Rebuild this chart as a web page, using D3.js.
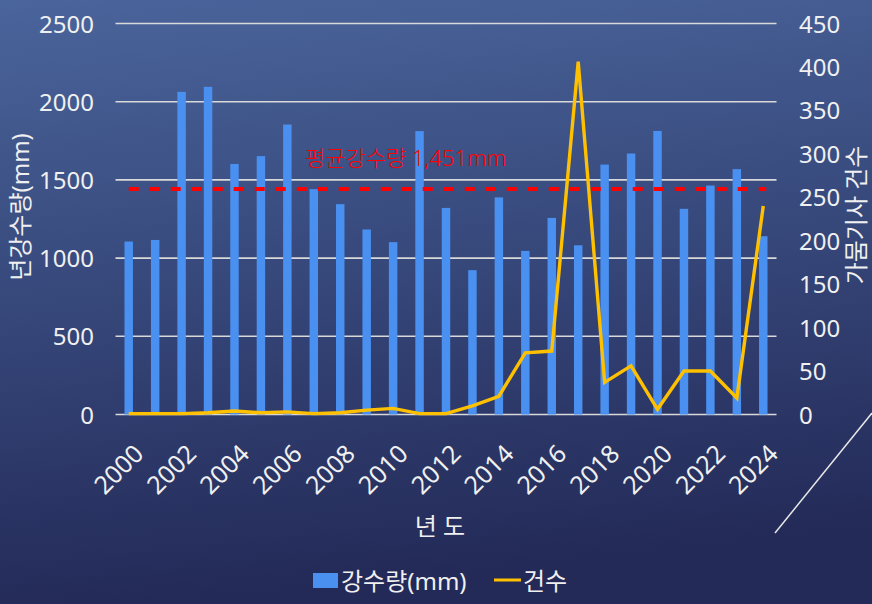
<!DOCTYPE html>
<html>
<head>
<meta charset="utf-8">
<script src="https://cdn.jsdelivr.net/npm/d3@7"></script>
<style>
  html, body { margin: 0; padding: 0; background: #2a3466; }
  svg { display: block; }
  text { font-family: "Noto Sans", "Noto Sans CJK KR", sans-serif; }
</style>
</head>
<body>
<div id="chart"></div>
<script>
// 연도별 데이터
const years = d3.range(2000, 2025).map(String);
const rainfall = [1106, 1116, 2063, 2095, 1602, 1652, 1854, 1441, 1345, 1183,
                  1102, 1812, 1321, 923, 1388, 1046, 1257, 1082, 1598, 1669,
                  1813, 1315, 1464, 1569, 1140];
const articles = [1, 1, 1, 2, 4, 2, 3, 1, 2, 5,
                  7, 1, 1, 10, 21, 71, 73, 406, 37, 56,
                  6, 50, 50, 19, 240];
const avgRain = 1451;
const leftTicks = [0, 500, 1000, 1500, 2000, 2500];
const rightTicks = [0, 50, 100, 150, 200, 250, 300, 350, 400, 450];

const width = 872, height = 604;
const plot = { left: 115.5, right: 776.5, top: 23.5, bottom: 414.5 };

const svg = d3.select("#chart").append("svg")
  .attr("width", width)
  .attr("height", height);

// 배경 그라데이션
const grad = svg.append("defs").append("linearGradient")
  .attr("id", "bg").attr("x1", 0).attr("y1", 0).attr("x2", 0.15).attr("y2", 1);
grad.append("stop").attr("offset", "0%").attr("stop-color", "#4a659c");
grad.append("stop").attr("offset", "100%").attr("stop-color", "#232a58");
svg.append("rect").attr("width", width).attr("height", height).attr("fill", "url(#bg)");

const x = d3.scaleBand().domain(years).range([plot.left, plot.right]).paddingInner(0.68).paddingOuter(0.34);
const xc = d => x(d) + x.bandwidth() / 2;
const yL = d3.scaleLinear().domain([0, 2500]).range([plot.bottom, plot.top]);
const yR = d3.scaleLinear().domain([0, 450]).range([plot.bottom, plot.top]);

// 격자선
svg.append("g")
  .selectAll("line")
  .data(leftTicks)
  .enter()
  .append("line")
  .attr("x1", plot.left).attr("x2", plot.right)
  .attr("y1", d => yL(d)).attr("y2", d => yL(d))
  .attr("stroke", "#d9d9d9")
  .attr("stroke-width", 1.6);

// 왼쪽 축 눈금
svg.append("g")
  .selectAll("text")
  .data(leftTicks)
  .enter()
  .append("text")
  .attr("x", 94)
  .attr("y", d => yL(d) + 9)
  .attr("text-anchor", "end")
  .attr("font-size", "24px")
  .attr("fill", "#f0f0f0")
  .text(d => d);

// 오른쪽 축 눈금
svg.append("g")
  .selectAll("text")
  .data(rightTicks)
  .enter()
  .append("text")
  .attr("x", 799)
  .attr("y", d => yR(d) + 9)
  .attr("text-anchor", "start")
  .attr("font-size", "24px")
  .attr("fill", "#f0f0f0")
  .text(d => d);

// 막대
svg.append("g")
  .selectAll("rect")
  .data(years)
  .enter()
  .append("rect")
  .attr("x", d => x(d))
  .attr("y", (d, i) => yL(rainfall[i]))
  .attr("width", x.bandwidth())
  .attr("height", (d, i) => yL(0) - yL(rainfall[i]))
  .attr("fill", "#4a90f0");

// 평균 강수량 점선
svg.append("line")
  .attr("x1", xc(years[0]))
  .attr("x2", xc(years[years.length - 1]) + 3)
  .attr("y1", yL(avgRain) + 1.5).attr("y2", yL(avgRain) + 1.5)
  .attr("stroke", "#ff0000")
  .attr("stroke-width", 4)
  .attr("stroke-dasharray", "10,11");

svg.append("text")
  .attr("x", 305)
  .attr("y", 166)
  .attr("font-size", "22px")
  .attr("font-weight", 300)
  .attr("fill", "#ff0000")
  .text("평균강수량 1,451mm");

// 가뭄기사 건수 선
const line = d3.line()
  .x((d, i) => xc(years[i]))
  .y(d => yR(d));
svg.append("path")
  .datum(articles)
  .attr("d", line)
  .attr("fill", "none")
  .attr("stroke", "#ffc000")
  .attr("stroke-width", 3.4)
  .attr("stroke-linejoin", "miter");

// x축 라벨 (짝수 연도)
svg.append("g")
  .selectAll("text")
  .data(years.filter((d, i) => i % 2 === 0))
  .enter()
  .append("text")
  .attr("transform", d => `translate(${xc(d) + 4}, ${443}) rotate(-45)`)
  .attr("text-anchor", "end")
  .attr("dy", "0.7em")
  .attr("font-size", "25px")
  .attr("fill", "#f0f0f0")
  .text(d => d);

// 축 제목
svg.append("text")
  .attr("x", 440)
  .attr("y", 535)
  .attr("text-anchor", "middle")
  .attr("font-size", "24px")
  .attr("fill", "#f0f0f0")
  .text("년 도");

svg.append("text")
  .attr("transform", "translate(29, 207) rotate(-90)")
  .attr("text-anchor", "middle")
  .attr("font-size", "24px")
  .attr("fill", "#f0f0f0")
  .text("년강수량(mm)");

svg.append("text")
  .attr("transform", "translate(865, 215) rotate(-90)")
  .attr("text-anchor", "middle")
  .attr("font-size", "24px")
  .attr("fill", "#f0f0f0")
  .text("가뭄기사 건수");

// 범례
const legend = svg.append("g").attr("transform", "translate(313, 580)");
legend.append("rect")
  .attr("x", 0).attr("y", -7)
  .attr("width", 25).attr("height", 15)
  .attr("fill", "#4a90f0");
legend.append("text")
  .attr("x", 28).attr("y", 10)
  .attr("font-size", "24px")
  .attr("fill", "#f0f0f0")
  .text("강수량(mm)");
legend.append("line")
  .attr("x1", 181).attr("x2", 208)
  .attr("y1", 0).attr("y2", 0)
  .attr("stroke", "#ffc000")
  .attr("stroke-width", 3);
legend.append("text")
  .attr("x", 210).attr("y", 10)
  .attr("font-size", "24px")
  .attr("fill", "#f0f0f0")
  .text("건수");

// 우측 하단 사선
svg.append("line")
  .attr("x1", 775).attr("y1", 533)
  .attr("x2", 872).attr("y2", 413)
  .attr("stroke", "#e8e8e8")
  .attr("stroke-width", 1.5);
</script>
</body>
</html>
